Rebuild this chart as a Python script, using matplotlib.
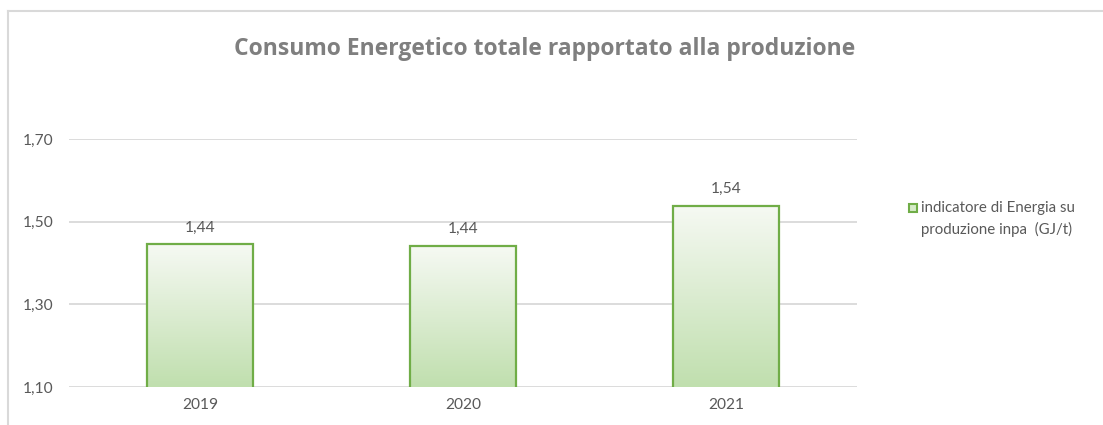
import numpy as np
import matplotlib.pyplot as plt
from matplotlib.colors import LinearSegmentedColormap
from matplotlib.lines import Line2D
from matplotlib.patches import Rectangle
from matplotlib.ticker import FuncFormatter

plt.rcParams['font.family'] = ['Lato', 'DejaVu Sans']

# dati
anni = ['2019', '2020', '2021']
valori = [1.445, 1.441, 1.538]
etichette = ['1,44', '1,44', '1,54']
titolo = 'Consumo Energetico totale rapportato alla produzione'
legenda = 'indicatore di Energia su\nproduzione inpa  (GJ/t)'

grigio = '#595959'
verde = '#70ad47'

fig = plt.figure(figsize=(11.03, 4.25), dpi=100)
W, H = 1103, 425
ax = fig.add_axes([68.5 / W, 1 - 387 / H, 789 / W, 248 / H])

x = np.arange(len(anni))
larg = 0.40
bars = ax.bar(x, valori, width=larg, bottom=0, facecolor='none',
              edgecolor=verde, linewidth=1.6, zorder=3)

# riempimento sfumato (bianco in alto, verde chiaro in basso)
cmap = LinearSegmentedColormap.from_list('g', ['#c0dfae', '#f6f9f3'])
grad = np.linspace(0, 1, 256).reshape(-1, 1)
for b, v in zip(bars, valori):
    im = ax.imshow(grad, cmap=cmap, origin='lower', aspect='auto',
                   extent=(b.get_x(), b.get_x() + b.get_width(), 1.10, v),
                   zorder=2)
    im.set_clip_path(b)

for xi, v, t in zip(x, valori, etichette):
    ax.annotate(t, (xi, v), xytext=(0, 7), textcoords='offset points',
                ha='center', va='bottom', fontsize=11.2, color=grigio)

ax.set_xlim(-0.5, len(anni) - 0.5)
ax.set_ylim(1.10, 1.70)
ax.set_yticks([1.10, 1.30, 1.50, 1.70])
ax.yaxis.set_major_formatter(FuncFormatter(lambda v, p: f'{v:.2f}'.replace('.', ',')))
ax.set_xticks(x)
ax.set_xticklabels(anni)
ax.tick_params(length=0, colors=grigio, labelsize=11.2)
ax.tick_params(axis='y', pad=11)
ax.tick_params(axis='x', pad=8)
ax.grid(axis='y', color='#d9d9d9', linewidth=1.3, zorder=0)
ax.set_axisbelow(True)
for s in ax.spines.values():
    s.set_visible(False)

fig.text(545 / W, 1 - 49 / H, titolo, ha='center', va='center',
         fontsize=16.5, fontweight='bold', color='#7f7f7f', family='Open Sans')

# legenda (quadratino allineato alla prima riga)
fig.add_artist(Rectangle((909 / W, 1 - 212 / H), 8 / W, 8 / H,
                         facecolor='#d6ebc9', edgecolor=verde, linewidth=1.5,
                         transform=fig.transFigure))
fig.text(921 / W, 1 - 201 / H, legenda, ha='left', va='top',
         fontsize=10.8, color=grigio, linespacing=1.6)

# bordo del grafico
fig.add_artist(Line2D([8 / W, 1], [1 - 11 / H, 1 - 11 / H],
                      color='#d9d9d9', linewidth=1.5, transform=fig.transFigure))
fig.add_artist(Line2D([8 / W, 8 / W], [0, 1 - 11 / H],
                      color='#d9d9d9', linewidth=1.5, transform=fig.transFigure))

fig.savefig('out.png', dpi=100)
